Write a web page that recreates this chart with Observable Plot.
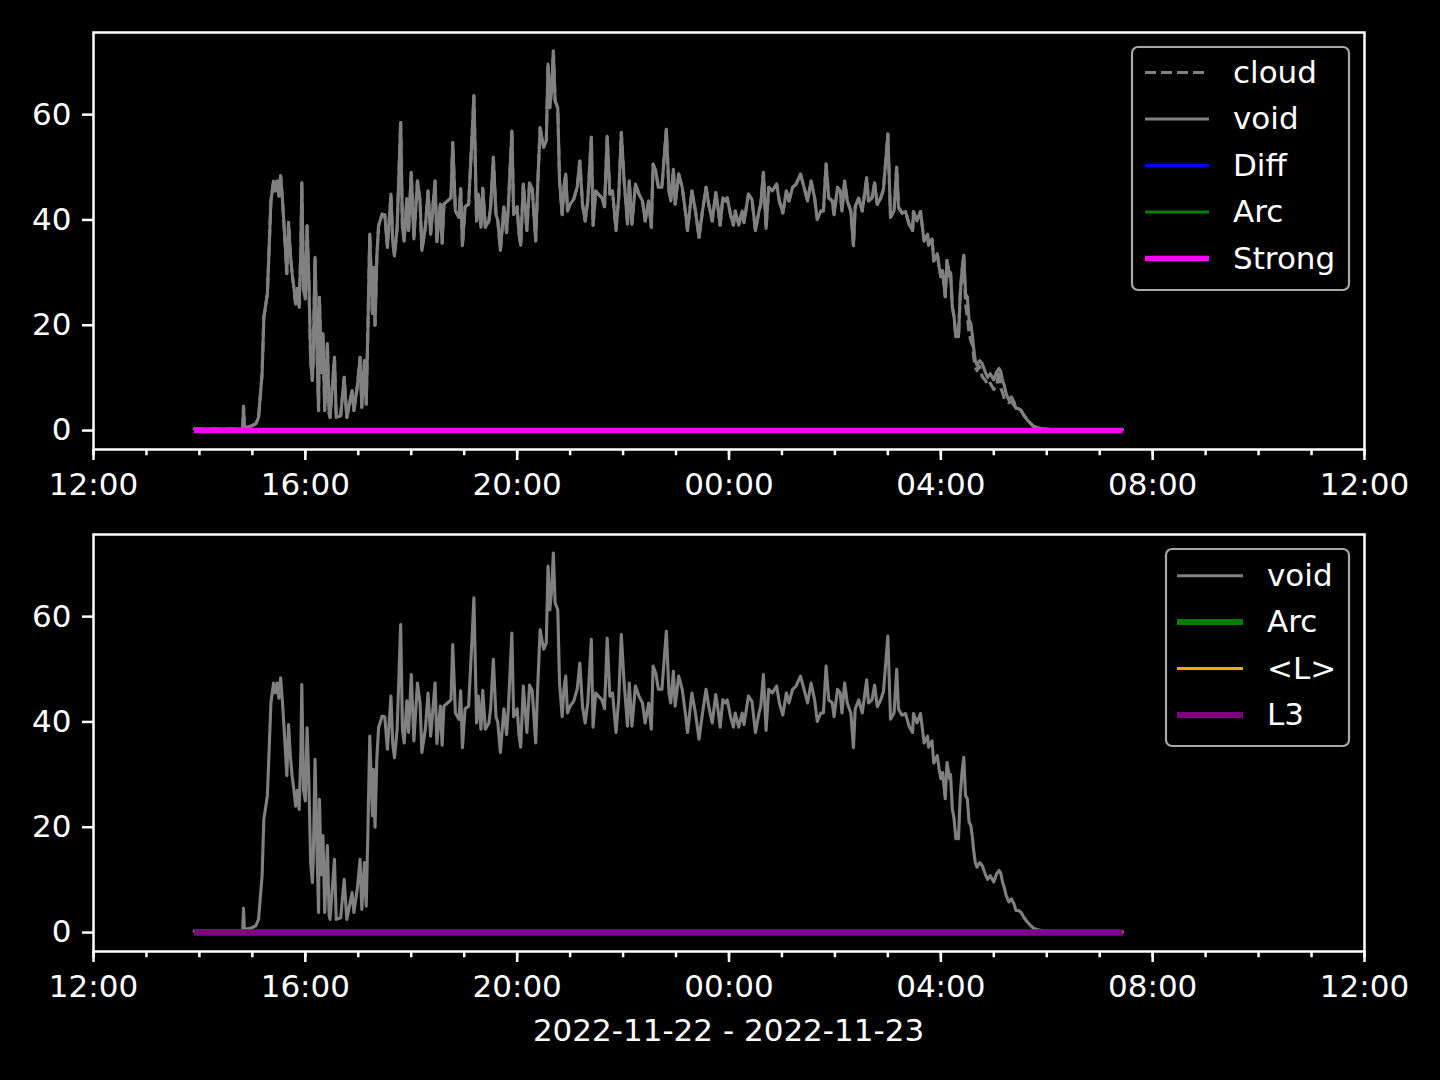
<!DOCTYPE html>
<html>
<head>
<meta charset="utf-8">
<script src="https://cdn.jsdelivr.net/npm/d3@7"></script>
<script src="https://cdn.jsdelivr.net/npm/@observablehq/plot@0.6"></script>
<style>
  html, body { margin: 0; padding: 0; background: #000; }
  #fig { position: relative; width: 1440px; height: 1080px; background: #000; overflow: hidden;
         font-family: "DejaVu Sans", sans-serif; color: #fff; }
  .panel { position: absolute; left: 0; }
  #overlay { position: absolute; left: 0; top: 0; pointer-events: none; }
</style>
</head>
<body>
<div id="fig"></div>
<script>
// ---------------- data ----------------
const voidTimes = [
  "13:54","14:46","14:49","14:50","14:51","14:58","15:04","15:07","15:11","15:13","15:17","15:21","15:24","15:26","15:28","15:30",
  "15:32","15:34","15:36","15:38","15:39","15:41","15:43","15:45","15:47","15:49","15:51","15:53","15:55","15:56","15:58","16:00",
  "16:02","16:04","16:06","16:08","16:09","16:11","16:13","16:15","16:16","16:18","16:20","16:22","16:25","16:27","16:28","16:33",
  "16:35","16:40","16:44","16:47","16:53","16:55","16:59","17:02","17:04","17:07","17:09","17:11","17:13","17:16","17:17","17:19",
  "17:21","17:23","17:27","17:30","17:33","17:37","17:39","17:41","17:44","17:48","17:50","17:52","17:55","17:57","18:00","18:03",
  "18:07","18:10","18:12","18:16","18:19","18:22","18:27","18:29","18:33","18:35","18:37","18:41","18:45","18:47","18:50","18:54",
  "18:56","18:58","19:01","19:05","19:09","19:11","19:14","19:16","19:19","19:21","19:24","19:28","19:30","19:33","19:36","19:38",
  "19:41","19:45","19:48","19:50","19:54","19:56","20:00","20:02","20:04","20:07","20:11","20:14","20:17","20:21","20:23","20:26",
  "20:30","20:33","20:35","20:37","20:39","20:41","20:43","20:46","20:48","20:51","20:53","20:55","20:57","21:00","21:04","21:08",
  "21:11","21:14","21:17","21:20","21:24","21:26","21:29","21:32","21:36","21:39","21:42","21:45","21:48","21:52","21:55","21:58",
  "22:01","22:05","22:07","22:10","22:14","22:18","22:22","22:25","22:29","22:32","22:34","22:37","22:40","22:44","22:49","22:52",
  "22:54","22:57","22:59","23:03","23:07","23:11","23:13","23:18","23:22","23:26","23:30","23:34","23:37","23:41","23:45","23:47",
  "23:50","23:53","23:56","23:58","00:02","00:05","00:07","00:11","00:15","00:17","00:22","00:26","00:30","00:34","00:36","00:39",
  "00:42","00:45","00:49","00:54","00:57","01:01","01:05","01:08","01:12","01:16","01:21","01:25","01:29","01:33","01:37","01:40",
  "01:44","01:47","01:50","01:53","01:57","01:59","02:03","02:06","02:08","02:11","02:14","02:18","02:21","02:23","02:27","02:31",
  "02:36","02:38","02:42","02:45","02:48","02:52","02:55","03:00","03:03","03:07","03:10","03:12","03:16","03:20","03:24","03:28",
  "03:29","03:33","03:37","03:41","03:45","03:46","03:50","03:52","03:56","03:58","04:00","04:02","04:05","04:07","04:10","04:11",
  "04:13","04:15","04:17","04:19","04:20","04:22","04:24","04:26","04:28","04:30","04:32","04:34","04:36","04:37","04:39","04:41",
  "04:44","04:47","04:51","04:53","04:56","05:00","05:03","05:06","05:08","05:10","05:12","05:14","05:17","05:20","05:23","05:25",
  "05:28","05:31","05:34","05:38","05:42","05:45","05:49","05:55","06:05","07:26"
];
const voidValues = [
  0.3,0.3,0.4,4.6,0.6,0.8,1.3,2.5,10.8,21.5,26,43.6,47.4,45.5,47.4,44.5,
  48.4,44,38.6,32.9,29.8,39.5,33.6,29.8,27.2,24,27,23.4,34.8,47.1,27,25,
  38.9,28.5,13.3,9.5,13.9,32.9,17,3.8,25.3,11,18.4,3.8,16.5,3.2,2.5,13.9,
  2.5,2.8,10.1,2.5,7.6,3.8,8.5,13.9,4.4,13.3,5,20.2,37.3,22.2,31,20,
  33,38.9,41.1,41,34.8,44.9,35.9,33.2,38.6,58.5,38.6,36,44,38,49,36.4,
  47.4,43.6,34.2,38.6,45.5,37.3,47.4,35.9,43,35.6,43,43.6,44.2,54.7,41.7,40.5,
  45.9,35.1,42.5,43,56.3,63.6,39.8,44.9,38.6,46,38.6,39.8,42.7,51.9,41,40,
  34.2,42.5,37.6,42.5,56.9,41,42.5,37.6,35.2,46.8,38,47,46,36,45.5,57.5,
  53.8,55,69.6,61.3,65,72.1,62.6,61.3,47.4,41,46.2,48.7,41.7,43,43.9,46.2,
  51.2,43,39.8,43.6,55.7,39,45.5,44.9,44.2,42.5,55.9,44.9,45.5,38,44.2,56.6,
  47.9,39.2,47.4,39.2,46.8,44.9,43.6,39.8,43.6,38.6,50.6,49.3,46.2,46.2,57.2,45.5,
  43.6,49.6,43,48.7,46.2,41,38,45.5,41.7,36.7,41.7,46.2,43,39.8,45.2,43,
  39,44.2,43.6,44.2,40.8,39,41.7,39,41.7,39.5,44.9,43.9,38,41.7,43,49,
  38.4,46.2,45.5,46.8,43.6,41.3,45.5,43.6,46.2,46.8,48.7,46.2,43.6,47.4,44.2,40.1,
  41.7,41.7,50.6,44.2,43.6,41,46.2,45.5,41.7,47.4,43.6,41.7,35.1,42.5,44.2,41.7,
  48,43.6,44.2,47,42.9,44.2,45.8,56.3,40.5,41.7,50,42.4,41.3,41.6,39.2,38,
  41.6,39.8,41.6,36,37.3,35.2,36.4,32.2,33.6,31.1,29.2,30.4,25.4,32.3,29.2,30,
  23.5,21.6,17.8,19,17.8,26,30.4,33.3,26,25.4,21,20.3,17.8,15.9,13.3,12.4,
  13.3,12.7,10.8,10.1,10.8,9.6,11.1,11.8,11.2,9.5,8.5,7,5.8,6.4,5.4,4.2,
  4.2,3.8,2.9,2,1.3,0.8,0.6,0.35,0.2,0.2
];
// "cloud" matches "void" except where it separates during the decline
const cloudTimes = [
  "04:26","04:28","04:30","04:32","04:34","04:36","04:37","04:39","04:41","04:44","04:47","04:51","04:53",
  "04:56","05:00","05:03","05:06","05:08","05:10","05:12","05:14","05:17","05:20","05:23","05:25"
];
const cloudValues = [
  33.3,24,21.5,18.5,17,16.2,14.2,12,11.4,12.2,10.2,9.4,8.5,
  9,7.8,8.3,11.5,8,7.2,6,5.6,5.3,5.5,4.8,4.2
];
const flatTimes = ["13:54", "07:26"];
const diffValues = [0, 0];
const arcValues = [0, 0];
const strongValues = [0, 0];
const lMeanValues = [0, 0];
const l3Values = [0, 0];

const yTicks = [0, 20, 40, 60];
const xDomain = ["2022-11-22T12:00:00Z", "2022-11-23T12:00:00Z"];
const xLabel = "2022-11-22 - 2022-11-23";

// ---------------- helpers ----------------
function toDate(hm) {
  const [h, m] = hm.split(":").map(Number);
  const day = h >= 12 ? 22 : 23;
  return new Date(Date.UTC(2022, 10, day, h, m));
}
function series(times, values) {
  return times.map((t, i) => ({t: toDate(t), v: values[i]}));
}
const voidData = series(voidTimes, voidValues);
const cloudPart = series(cloudTimes, cloudValues);
const cStart = cloudPart[0].t, cEnd = cloudPart[cloudPart.length - 1].t;
const cloudData = [
  ...voidData.filter(d => d.t < cStart),
  ...cloudPart,
  ...voidData.filter(d => d.t > cEnd)
];

const xStart = new Date(xDomain[0]), xEnd = new Date(xDomain[1]);
const majorTicks = d3.utcHour.every(4).range(xStart, new Date(+xEnd + 1));
const minorTicks = d3.utcHour.range(xStart, new Date(+xEnd + 1));

const topSeries = [
  {label: "cloud",  data: cloudData, stroke: "#808080", width: 3.1, dash: "11,5"},
  {label: "void",   data: voidData, stroke: "#808080", width: 3.1},
  {label: "Diff",   data: series(flatTimes, diffValues), stroke: "#0000ff", width: 3.1},
  {label: "Arc",    data: series(flatTimes, arcValues), stroke: "#008000", width: 3.1},
  {label: "Strong", data: series(flatTimes, strongValues), stroke: "#ff00ff", width: 5.5}
];
const bottomSeries = [
  {label: "void", data: voidData, stroke: "#808080", width: 3.1},
  {label: "Arc",  data: series(flatTimes, arcValues), stroke: "#008000", width: 6},
  {label: "<L>",  data: series(flatTimes, lMeanValues), stroke: "#ffa500", width: 3.1},
  {label: "L3",   data: series(flatTimes, l3Values), stroke: "#800080", width: 6}
];

function panel(list, height, marginTop, marginBottom) {
  return Plot.plot({
    width: 1440, height, marginLeft: 93, marginRight: 76, marginTop, marginBottom,
    style: {background: "#000", color: "#fff", fontFamily: "DejaVu Sans", fontSize: "31px", overflow: "visible"},
    x: {type: "utc", domain: [xStart, xEnd], label: null},
    y: {domain: [-3.6, 75.6], label: null},
    marks: [
      ...list.map(s => Plot.line(s.data, {
        x: "t", y: "v", stroke: s.stroke, strokeWidth: s.width,
        strokeDasharray: s.dash, strokeLinecap: s.dash ? "butt" : (s.label === "void" ? "round" : "butt"),
        strokeLinejoin: "round"
      })),
      Plot.frame({stroke: "#fff", strokeWidth: 2.5}),
      Plot.axisX({ticks: minorTicks, tickSize: 6.25, tickFormat: () => "", strokeWidth: 2.5, label: null}),
      Plot.axisX({ticks: majorTicks, tickSize: 11, tickPadding: 12, tickFormat: d3.utcFormat("%H:%M"),
                  fontSize: 31, strokeWidth: 2.5, label: null}),
      Plot.axisY({ticks: yTicks, tickSize: 11, tickPadding: 11, fontSize: 31, strokeWidth: 2.5, label: null})
    ]
  });
}

const fig = document.getElementById("fig");
const top1 = panel(topSeries, 502, 32, 53);
top1.classList.add("panel"); top1.style.top = "0px";
fig.appendChild(top1);
const bot = panel(bottomSeries, 501, 32, 52);
bot.classList.add("panel"); bot.style.top = "502px";
fig.appendChild(bot);

// ---------------- legends & caption ----------------
const svg = d3.select(fig).append("svg").attr("id", "overlay")
  .attr("width", 1440).attr("height", 1080)
  .style("font-family", "DejaVu Sans").style("font-size", "31px");

function legend(list, box, row0, step, sw0, sw1, textX) {
  const g = svg.append("g").attr("transform", `translate(${box.x},${box.y})`);
  g.append("rect").attr("x", 0).attr("y", 0).attr("width", box.w).attr("height", box.h)
    .attr("rx", 6).attr("fill", "rgba(0,0,0,0.8)").attr("stroke", "#a8a8a8").attr("stroke-width", 2.2);
  list.forEach((s, i) => {
    const y = row0 + i * step;
    g.append("line").attr("x1", sw0).attr("x2", sw1).attr("y1", y).attr("y2", y)
      .attr("stroke", s.stroke).attr("stroke-width", s.width)
      .attr("stroke-dasharray", s.dash || null);
    g.append("text").attr("x", textX).attr("y", y + 10).attr("fill", "#fff").text(s.label);
  });
}
legend(topSeries, {x: 1132, y: 47, w: 217, h: 243}, 25.5, 46.5, 13, 77, 101);
legend(bottomSeries, {x: 1166, y: 549, w: 183, h: 197}, 26.7, 46.4, 11, 77, 101);

svg.append("text").attr("x", 728.5).attr("y", 1041).attr("text-anchor", "middle")
  .attr("fill", "#fff").text(xLabel);
</script>
</body>
</html>
